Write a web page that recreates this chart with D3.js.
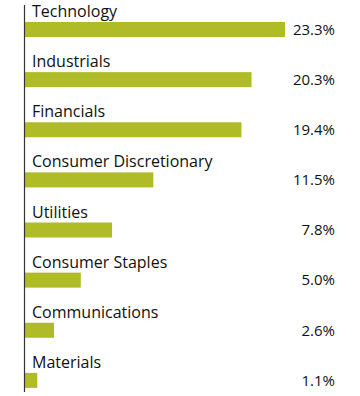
<!DOCTYPE html>
<html><head><meta charset="utf-8">
<script src="https://cdn.jsdelivr.net/npm/d3@7"></script>
<style>body{margin:0;background:#fff}svg{display:block}text{font-family:"Open Sans","Noto Sans",sans-serif;fill:#111}</style>
</head><body>
<script>
const categories = ["Technology","Industrials","Financials","Consumer Discretionary","Utilities","Consumer Staples","Communications","Materials"];
const values = [23.3, 20.3, 19.4, 11.5, 7.8, 5.0, 2.6, 1.1];
const valueLabels = ["23.3%","20.3%","19.4%","11.5%","7.8%","5.0%","2.6%","1.1%"];

const W = 360, H = 396;
const svg = d3.select("body").append("svg").attr("width", W).attr("height", H);
const x = d3.scaleLinear().domain([0, 23.3]).range([25, 285]);
const y = d3.scaleBand().domain(categories).range([5, 406]);

const g = svg.selectAll("g.row").data(categories).enter().append("g").attr("class","row");
g.append("rect")
  .attr("x", x(0))
  .attr("y", d => y(d) + 17)
  .attr("width", (d,i) => x(values[i]) - x(0))
  .attr("height", 15)
  .attr("fill", "#afbb27");
g.append("text")
  .attr("x", 32)
  .attr("y", d => y(d) + 12)
  .attr("font-size", 16)
  .text(d => d);
g.append("text")
  .attr("x", 335)
  .attr("y", d => y(d) + 24.5)
  .attr("dy", "0.35em")
  .attr("text-anchor", "end")
  .attr("font-size", 15)
  .text((d,i) => valueLabels[i]);

svg.append("line").attr("x1", 24.5).attr("x2", 24.5).attr("y1", 5).attr("y2", 392)
  .attr("stroke", "#333").attr("stroke-width", 1.2);
</script>
</body></html>
